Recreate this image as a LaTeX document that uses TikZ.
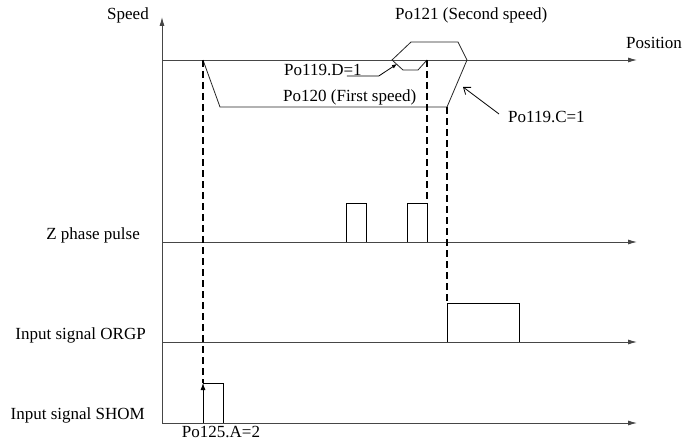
\documentclass[tikz,border=0pt]{standalone}
\usepackage{fontspec}
\setmainfont{Liberation Serif}
\usepackage{tikz}
\usetikzlibrary{arrows.meta, positioning}
\usepackage{xcolor}
\definecolor{axisgray}{RGB}{70,70,70}

\begin{document}
\begin{tikzpicture}[x=1pt, y=-1pt, every node/.style={font=\fontsize{17}{19}\selectfont, inner sep=0pt},
    axisline/.style={axisgray, line width=0.8pt, -{Latex[length=9pt, width=5pt]}},
    sigline/.style={black, line width=0.8pt},
    guide/.style={black, line width=1.4pt, dash pattern=on 7pt off 4pt}]
  \useasboundingbox (0,0) rectangle (684,441);
  % axes
  \draw[axisline] (162,423) coordinate (orig) -- (162,17) coordinate (vtop);
  \foreach \nm/\yy in {pos/60, zph/242, orgp/342, shom/423} {%
    \draw[axisline] (162,\yy) coordinate (\nm0) -- (637,\yy) coordinate (\nm1);}
  % speed profile
  \draw[sigline, black!85] (203,60) coordinate (start) -- (220,107) -- (447,107) coordinate (slow)
       -- (467,60) -- (458,42) -- (411,42) -- (392,60) -- (403,70) -- (418,70) -- (427,60) coordinate (stop);
  % Z phase pulses
  \foreach \x in {346,407} {%
    \draw[sigline] (\x,242) -- (\x,203) -- (\x+20,203) -- (\x+20,242);}
  \coordinate (zpulse) at (427,203);
  % ORGP and SHOM
  \draw[sigline] (447,342) -- (447,303) coordinate (orgprise) -- (519,303) -- (519,342);
  \draw[sigline, -{Latex[length=7pt, width=5pt]}] (203,423) -- (203,383) coordinate (shomrise);
  \draw[sigline] (shomrise) -- (223,383) -- (223,423);
  % dashed guides
  \draw[guide] (start) -- (shomrise);
  \draw[guide] (stop) -- (zpulse);
  \draw[guide] (slow) -- (orgprise);
  % labels
  \node (speed) at (128,15) {Speed};
  \node[anchor=west] (position) at (626,43) {Position};
  \node[anchor=west] (secspd) at (395,15) {Po121 (Second speed)};
  \node[anchor=west] (po119d) at (284,70) {Po119.D=1};
  \node[anchor=west] (firstspd) at (283,97) {Po120 (First speed)};
  \node[anchor=west] (po119c) at (508,117) {Po119.C=1};
  \node[anchor=east] (zlbl) at (140,235) {Z phase pulse};
  \node[anchor=east] (orgplbl) at (146,335) {Input signal ORGP};
  \node[anchor=east] (shomlbl) at (145,415) {Input signal SHOM};
  \node (po125) at (221,432) {Po125.A=2};
  % leaders
  \coordinate (dtip) at (397,64);
  \coordinate (ctip) at (463,87);
  \draw[sigline, -{Latex[length=5pt, width=4pt]}] ([xshift=-15pt]po119d.south east) -- ++(32,0) -- (dtip);
  \draw[sigline, -{Straight Barb[length=6pt, width=9pt]}] ([xshift=-9pt, yshift=3pt]po119c.west) -- (ctip);
\end{tikzpicture}
\end{document}
